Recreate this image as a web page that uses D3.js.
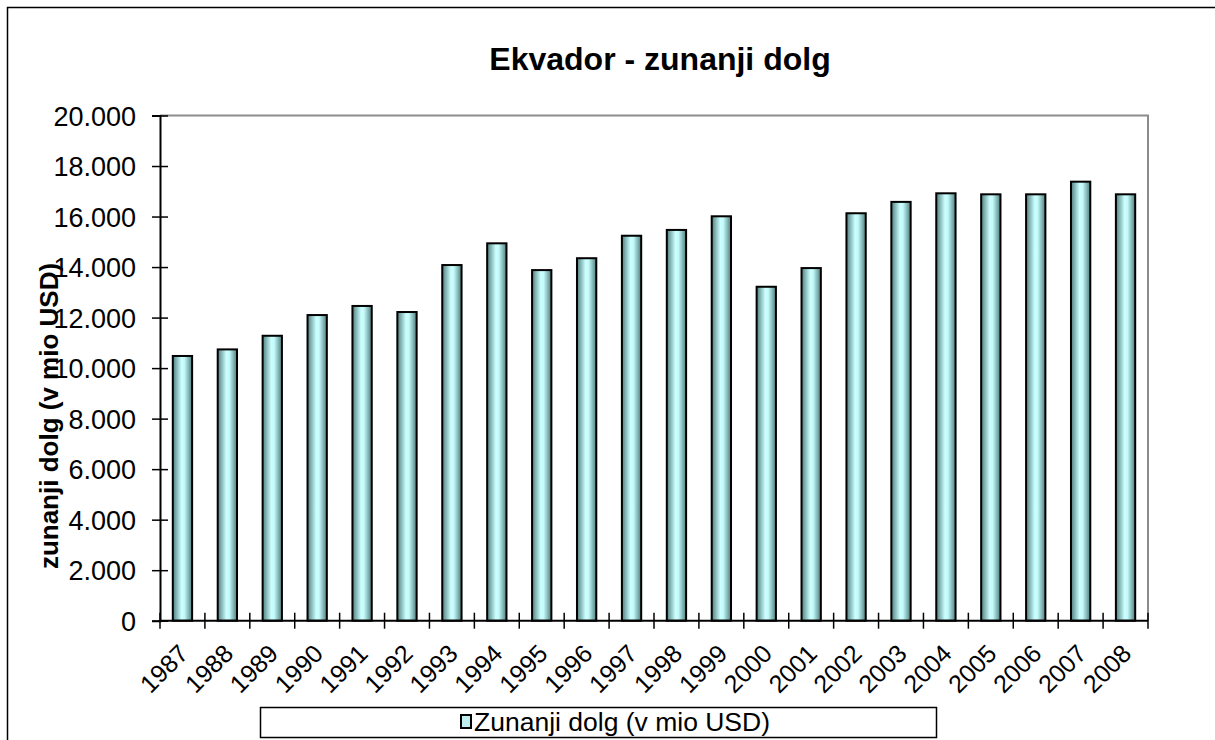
<!DOCTYPE html>
<html>
<head>
<meta charset="utf-8">
<script src="https://cdn.jsdelivr.net/npm/d3@7"></script>
<style>
  body { margin: 0; background: #fff; }
  svg { display: block; font-family: 'Liberation Sans', Arial, sans-serif; }
</style>
</head>
<body>
<svg id="chart" width="1215" height="740"></svg>
<script>
const years = ['1987', '1988', '1989', '1990', '1991', '1992', '1993', '1994', '1995', '1996', '1997',
  '1998', '1999', '2000', '2001', '2002', '2003', '2004', '2005', '2006', '2007', '2008'];
const debt = [10480, 10740, 11280, 12100, 12460, 12220, 14080, 14940, 13880, 14350, 15240,
  15470, 16010, 13220, 13960, 16130, 16580, 16920, 16880, 16880, 17380, 16880];
const yTicks = [0, 2000, 4000, 6000, 8000, 10000, 12000, 14000, 16000, 18000, 20000];
const title = 'Ekvador - zunanji dolg';
const yTitle = 'zunanji dolg (v mio USD)';
const seriesName = 'Zunanji dolg (v mio USD)';

const plotLeft = 160, plotRight = 1148, plotTop = 115.5, plotBottom = 620.7;

const svg = d3.select('#chart');

// outer chart frame
svg.append('rect')
  .attr('x', 7.5).attr('y', 7.5)
  .attr('width', 1220).attr('height', 760)
  .attr('fill', 'none').attr('stroke', '#000').attr('stroke-width', 1.5);

const defs = svg.append('defs');
const grad = defs.append('linearGradient').attr('id', 'barFill')
  .attr('x1', '0%').attr('x2', '100%').attr('y1', '0%').attr('y2', '0%');
grad.append('stop').attr('offset', '0%').attr('stop-color', '#4f7d7d');
grad.append('stop').attr('offset', '45%').attr('stop-color', '#ccffff');
grad.append('stop').attr('offset', '60%').attr('stop-color', '#c4fafa');
grad.append('stop').attr('offset', '100%').attr('stop-color', '#4f7d7d');

const xScale = d3.scaleBand()
  .domain(years)
  .range([plotLeft, plotRight])
  .paddingInner(0.57)
  .paddingOuter(0.285);

const yScale = d3.scaleLinear()
  .domain([0, 20000])
  .range([plotBottom, plotTop]);

// plot area border (top/right gray)
svg.append('path')
  .attr('d', `M${plotLeft},${plotTop}H${plotRight}V${plotBottom}`)
  .attr('fill', 'none').attr('stroke', '#8c8c8c').attr('stroke-width', 2);

// bars
svg.append('g')
  .selectAll('rect')
  .data(debt)
  .enter()
  .append('rect')
  .attr('x', (d, i) => xScale(years[i]))
  .attr('y', (d) => yScale(d))
  .attr('width', xScale.bandwidth())
  .attr('height', (d) => yScale(0) - yScale(d))
  .attr('fill', 'url(#barFill)')
  .attr('stroke', '#000')
  .attr('stroke-width', 2);

// y axis
const yAxis = svg.append('g')
  .attr('transform', `translate(${plotLeft}, 0)`)
  .call(d3.axisLeft(yScale).tickValues(yTicks).tickSize(8)
    .tickFormat((d) => d3.format(',')(d).replace(/,/g, '.')));
yAxis.select('.domain').attr('stroke', '#000').attr('stroke-width', 2);
yAxis.selectAll('.tick line').attr('x1', 8).attr('x2', -8).attr('stroke', '#000').attr('stroke-width', 1.5);
yAxis.selectAll('.tick text')
  .attr('x', -24)
  .attr('dy', '0.36em')
  .style('font-size', '27px')
  .style('font-family', "'Liberation Sans', Arial, sans-serif")
  .attr('fill', '#000');

// x axis with ticks at category boundaries
const xAxis = svg.append('g')
  .attr('transform', `translate(0, ${plotBottom})`);
xAxis.append('line')
  .attr('x1', plotLeft).attr('x2', plotRight)
  .attr('stroke', '#000').attr('stroke-width', 2);
const step = xScale.step();
xAxis.selectAll('line.tick')
  .data(d3.range(years.length + 1))
  .enter()
  .append('line')
  .attr('class', 'tick')
  .attr('x1', (i) => plotLeft + i * step).attr('x2', (i) => plotLeft + i * step)
  .attr('y1', -8).attr('y2', 8)
  .attr('stroke', '#000').attr('stroke-width', 1.5);
xAxis.selectAll('text')
  .data(years)
  .enter()
  .append('text')
  .attr('transform', (d) => `translate(${xScale(d) + xScale.bandwidth() / 2 + 1}, 28) rotate(-45)`)
  .attr('text-anchor', 'end')
  .attr('dy', '0.36em')
  .style('font-size', '25px')
  .text((d) => d);

// title
svg.append('text')
  .attr('x', 660).attr('y', 70)
  .attr('text-anchor', 'middle')
  .style('font-size', '32px')
  .style('font-weight', 'bold')
  .text(title);

// y axis title
svg.append('text')
  .attr('transform', 'translate(58, 416) rotate(-90)')
  .attr('text-anchor', 'middle')
  .style('font-size', '26px')
  .style('font-weight', 'bold')
  .text(yTitle);

// legend
const legend = svg.append('g');
legend.append('rect')
  .attr('x', 260.5).attr('y', 707.5)
  .attr('width', 676).attr('height', 30)
  .attr('fill', '#fff').attr('stroke', '#000').attr('stroke-width', 1.5);
legend.append('rect')
  .attr('x', 461).attr('y', 715)
  .attr('width', 10).attr('height', 13)
  .attr('fill', '#bfeeee').attr('stroke', '#000').attr('stroke-width', 2);
legend.append('text')
  .attr('x', 474).attr('y', 731)
  .attr('textLength', 296)
  .attr('lengthAdjust', 'spacingAndGlyphs')
  .style('font-size', '25px')
  .text(seriesName);
</script>
</body>
</html>
